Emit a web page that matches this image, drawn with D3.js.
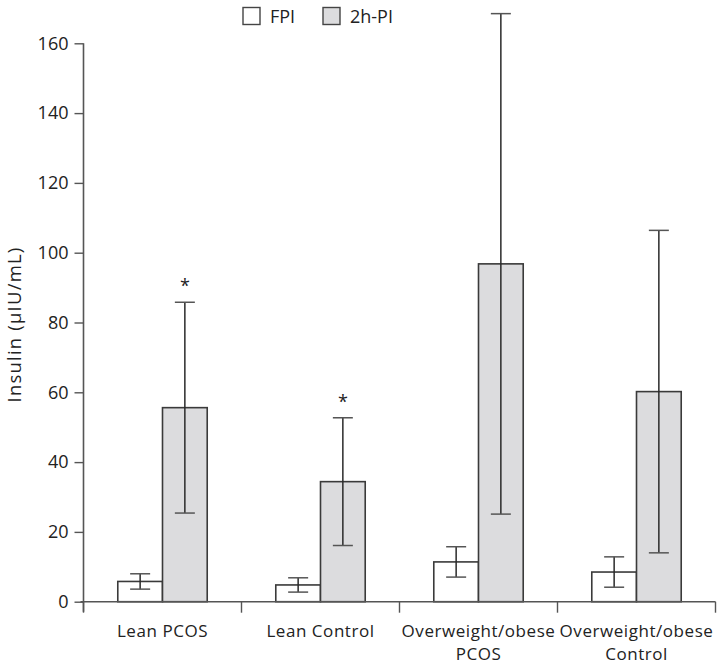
<!DOCTYPE html>
<html><head><meta charset="utf-8">
<script src="https://cdn.jsdelivr.net/npm/d3@7"></script>
<style>body{margin:0;background:#fff}svg{display:block}text{font-family:"Open Sans",sans-serif;fill:#222}</style>
</head><body>
<svg id="c" width="723" height="665"></svg>
<script>
const categories = [["Lean PCOS"], ["Lean Control"], ["Overweight/obese", "PCOS"], ["Overweight/obese", "Control"]];
const series = ["FPI", "2h-PI"];
const fpiMean = [5.8, 4.8, 11.4, 8.5];
const fpiErr = [2.2, 2.05, 4.35, 4.35];
const pi2hMean = [55.6, 34.4, 96.8, 60.2];
const pi2hErr = [30.2, 18.3, 71.7, 46.2];
const significant = [true, true, false, false];
const yTicks = [0, 20, 40, 60, 80, 100, 120, 140, 160];
const yLabel = "Insulin (µIU/mL)";

const svg = d3.select("#c");
const mLeft = 83.5, mRight = 715.5, mTop = 43.3, mBottom = 601.7;
const fills = {"FPI": "#ffffff", "2h-PI": "#dcdcde"};
const stroke = "#3a3a3a";

const x0 = d3.scaleBand().domain(d3.range(categories.length)).range([mLeft, mRight]).padding(0);
const step = x0.bandwidth();
const x1 = d3.scaleBand().domain(series).range([step * 0.217, step * 0.783]).padding(0);
const y = d3.scaleLinear().domain([0, 160]).range([mBottom, mTop]);

const rows = [];
categories.forEach((c, i) => {
  rows.push({i, s: "FPI", v: fpiMean[i], e: fpiErr[i]});
  rows.push({i, s: "2h-PI", v: pi2hMean[i], e: pi2hErr[i]});
});

// bars
svg.append("g").selectAll("rect").data(rows).join("rect")
  .attr("x", d => x0(d.i) + x1(d.s))
  .attr("y", d => y(d.v))
  .attr("width", x1.bandwidth())
  .attr("height", d => y(0) - y(d.v))
  .attr("fill", d => fills[d.s])
  .attr("stroke", stroke).attr("stroke-width", 1.6);

// error bars
const eg = svg.append("g").attr("stroke", "#2a2a2a").attr("stroke-width", 1.5).attr("fill", "none");
const cap = 10;
rows.forEach(d => {
  const cx = x0(d.i) + x1(d.s) + x1.bandwidth() / 2;
  const y1 = y(d.v + d.e), y2 = y(Math.max(0, d.v - d.e));
  eg.append("line").attr("x1", cx).attr("x2", cx).attr("y1", y1).attr("y2", y2);
  eg.append("line").attr("x1", cx - cap).attr("x2", cx + cap).attr("y1", y1).attr("y2", y1).attr("stroke", "#555");
  eg.append("line").attr("x1", cx - cap).attr("x2", cx + cap).attr("y1", y2).attr("y2", y2).attr("stroke", "#555");
});

// significance stars
rows.filter(d => d.s === "2h-PI" && significant[d.i]).forEach(d => {
  const cx = x0(d.i) + x1(d.s) + x1.bandwidth() / 2;
  svg.append("text").attr("x", cx).attr("y", y(d.v + d.e) - 10)
    .attr("text-anchor", "middle").style("font-size", "18px").text("*");
});

// y axis
const yAxis = svg.append("g").attr("transform", `translate(${mLeft},0)`)
  .call(d3.axisLeft(y).tickValues(yTicks).tickSize(9).tickPadding(6).tickSizeOuter(0));
yAxis.select(".domain").attr("stroke", "#555").attr("stroke-width", 1.6)
  .attr("d", `M0,${mTop}V${mBottom + 10}`);
yAxis.selectAll(".tick line").attr("stroke", "#555").attr("stroke-width", 1.4);
yAxis.selectAll(".tick text").style("font-size", "18px").style("font-family", "'Open Sans',sans-serif").attr("fill", "#222");

// x axis
const xAxis = svg.append("g").attr("transform", `translate(0,${mBottom})`);
xAxis.append("line").attr("x1", mLeft - 3).attr("x2", mRight).attr("y1", 0).attr("y2", 0)
  .attr("stroke", "#555").attr("stroke-width", 1.6);
const bounds = d3.range(categories.length + 1).map(i => mLeft + i * step);
xAxis.selectAll(".bt").data(bounds).join("line")
  .attr("x1", d => d).attr("x2", d => d).attr("y1", 0).attr("y2", 11)
  .attr("stroke", "#555").attr("stroke-width", 1.4);
categories.forEach((c, i) => {
  c.forEach((line, k) => {
    xAxis.append("text").attr("x", x0(i) + step / 2).attr("y", 35 + k * 23.3)
      .attr("text-anchor", "middle").style("font-size", "17px").style("letter-spacing", "0.55px")
      .text(line);
  });
});

// y label
svg.append("text").attr("transform", `translate(20.5,${(mTop + mBottom) / 2 + 2}) rotate(-90)`)
  .attr("text-anchor", "middle").style("font-size", "18.5px").style("letter-spacing", "1.2px").text(yLabel);

// legend
const lg = svg.append("g");
const legendX = [243, 323];
series.forEach((s, i) => {
  lg.append("rect").attr("x", legendX[i]).attr("y", 7.5).attr("width", 17).attr("height", 17)
    .attr("fill", fills[s]).attr("stroke", "#444").attr("stroke-width", 1.4);
  lg.append("text").attr("x", legendX[i] + 27).attr("y", 23).style("font-size", "18px").text(s);
});
</script>
</body></html>
